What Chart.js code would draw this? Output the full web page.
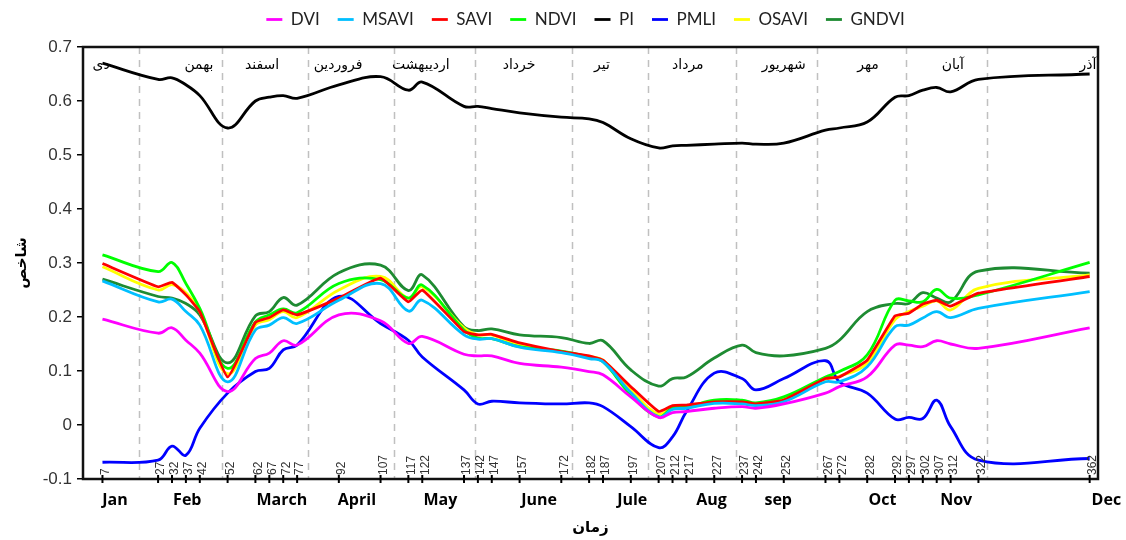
<!DOCTYPE html>
<html><head><meta charset="utf-8">
<script src="https://cdn.jsdelivr.net/npm/chart.js@4.4.1/dist/chart.umd.min.js"></script>
<style>html,body{margin:0;padding:0;background:#fff;}#wrap{width:1126px;height:540px;}</style>
</head><body><div id="wrap"><canvas id="c" width="1126" height="540"></canvas></div>
<script>
// ---- data ----
const days = [7,27,32,37,42,52,62,67,72,77,92,107,117,122,137,142,147,157,172,182,187,197,207,212,217,227,237,242,252,267,272,282,292,297,302,307,312,322,362];
const tickLabels = days.map(String);
const DVI   = [0.196,0.170,0.180,0.157,0.133,0.062,0.123,0.133,0.156,0.148,0.204,0.193,0.151,0.164,0.131,0.128,0.128,0.114,0.107,0.099,0.093,0.052,0.014,0.023,0.025,0.031,0.034,0.031,0.039,0.059,0.071,0.089,0.148,0.148,0.145,0.156,0.150,0.142,0.180];
const MSAVI = [0.267,0.228,0.233,0.210,0.185,0.080,0.176,0.185,0.199,0.188,0.231,0.262,0.211,0.231,0.167,0.159,0.160,0.144,0.134,0.123,0.117,0.060,0.015,0.029,0.031,0.040,0.039,0.036,0.043,0.080,0.080,0.108,0.182,0.185,0.198,0.210,0.199,0.216,0.247];
const SAVI  = [0.299,0.256,0.264,0.241,0.210,0.089,0.190,0.199,0.213,0.204,0.235,0.272,0.228,0.250,0.173,0.167,0.168,0.152,0.136,0.128,0.120,0.071,0.025,0.036,0.037,0.043,0.043,0.039,0.046,0.086,0.089,0.120,0.202,0.207,0.224,0.231,0.220,0.244,0.275];
const NDVI  = [0.315,0.284,0.301,0.262,0.216,0.105,0.191,0.204,0.215,0.208,0.262,0.269,0.235,0.259,0.176,0.161,0.160,0.145,0.137,0.126,0.117,0.056,0.015,0.032,0.033,0.046,0.046,0.041,0.052,0.089,0.099,0.130,0.231,0.230,0.228,0.251,0.235,0.241,0.301];
const PI    = [0.670,0.640,0.643,0.630,0.610,0.550,0.600,0.607,0.610,0.605,0.630,0.645,0.620,0.635,0.590,0.590,0.586,0.578,0.570,0.567,0.560,0.530,0.513,0.517,0.518,0.520,0.522,0.520,0.522,0.546,0.550,0.561,0.607,0.610,0.620,0.625,0.617,0.640,0.650];
const PMLI  = [-0.069,-0.065,-0.039,-0.056,-0.006,0.059,0.099,0.105,0.139,0.148,0.238,0.188,0.157,0.126,0.065,0.039,0.044,0.041,0.039,0.041,0.034,-0.003,-0.042,-0.022,0.025,0.096,0.086,0.065,0.086,0.119,0.080,0.059,0.011,0.014,0.012,0.046,-0.003,-0.065,-0.062];
const OSAVI = [0.293,0.250,0.260,0.245,0.210,0.095,0.185,0.195,0.210,0.199,0.250,0.275,0.235,0.256,0.180,0.167,0.167,0.148,0.135,0.127,0.120,0.065,0.020,0.034,0.035,0.042,0.043,0.038,0.048,0.085,0.090,0.115,0.195,0.210,0.220,0.230,0.213,0.253,0.278];
const GNDVI = [0.270,0.238,0.235,0.225,0.204,0.115,0.202,0.210,0.236,0.222,0.282,0.296,0.249,0.278,0.182,0.175,0.178,0.167,0.162,0.151,0.156,0.102,0.072,0.086,0.089,0.124,0.148,0.134,0.128,0.142,0.157,0.210,0.225,0.225,0.245,0.235,0.228,0.285,0.281];

const monthLabels = ['Jan','Feb','March','April','May','June','Jule','Aug','sep','Oct','Nov','Dec'];
const monthLabelDays = [11.5,37.5,71.5,98.5,128.5,164,197.5,226,250,287.5,314,368];
const persianMonths = ['دی','بهمن','اسفند','فروردین','اردیبهشت','خرداد','تیر','مرداد','شهریور','مهر','آبان','آذر'];
const persianMonthDays = [6.5,41.7,64.4,91.7,121.5,156.8,186.6,217.5,252,282.3,312.8,361.4];
const monthBoundaries = [20,50,81,112,141,176,203,235,264,296,325];

const seriesNames = ['DVI','MSAVI','SAVI','NDVI','PI','PMLI','OSAVI','GNDVI'];
const seriesValues = [DVI,MSAVI,SAVI,NDVI,PI,PMLI,OSAVI,GNDVI];
const seriesColors = ['#FF00FF','#00BFFF','#FF0000','#00FF00','#000000','#0000FF','#FFFF00','#1E8B32'];
const seriesTension = [0.4,0.4,0.12,0.4,0.4,0.4,0.4,0.4];

const datasets = seriesNames.map((n,i)=>({
  label:n,
  data: days.map((d,j)=>({x:d,y:seriesValues[i][j]})),
  borderColor: seriesColors[i], backgroundColor: seriesColors[i],
  borderWidth: 2.8, pointRadius:0, tension: seriesTension[i], fill:false
}));

const decor = {
  id:'decor',
  beforeInit(chart){
    const fit = chart.legend.fit;
    chart.legend.fit = function(){ fit.call(this); this.height = 47; };
  },
  afterLayout(chart){
    const lg = chart.legend;
    lg.left = 73; lg.right = 1098; lg.top = -7;
  },
  beforeDatasetsDraw(chart){
    const {ctx, chartArea:{top,bottom}, scales:{x}} = chart;
    ctx.save();
    ctx.strokeStyle='#c0c0c0'; ctx.lineWidth=1.5; ctx.setLineDash([7,6]);
    monthBoundaries.forEach(d=>{
      const px=Math.round(x.getPixelForValue(d))+0.5;
      ctx.beginPath(); ctx.moveTo(px,top); ctx.lineTo(px,bottom); ctx.stroke();
    });
    ctx.setLineDash([]);
    ctx.fillStyle='#000'; ctx.font='14px "DejaVu Sans"'; ctx.textAlign='center'; ctx.textBaseline='middle';
    persianMonths.forEach((t,i)=>ctx.fillText(t, x.getPixelForValue(persianMonthDays[i]), 65));
    ctx.restore();
  },
  afterDatasetsDraw(chart){
    const {ctx, chartArea:{top,bottom,left,right}, scales:{x}} = chart;
    ctx.save();
    ctx.strokeStyle='#111'; ctx.lineWidth=2.5;
    ctx.strokeRect(left, top, right-left, bottom-top);
    ctx.strokeStyle='#000'; ctx.lineWidth=2;
    days.forEach(d=>{
      const px=x.getPixelForValue(d);
      ctx.beginPath(); ctx.moveTo(px,bottom-4); ctx.lineTo(px,bottom+4); ctx.stroke();
    });
    ctx.fillStyle='#333'; ctx.font='12px "Liberation Sans"'; ctx.textAlign='left'; ctx.textBaseline='middle';
    days.forEach((d,i)=>{
      const px=x.getPixelForValue(d);
      ctx.save(); ctx.translate(px+3, bottom-4); ctx.rotate(-Math.PI/2);
      ctx.fillText(tickLabels[i],0,0); ctx.restore();
    });
    ctx.fillStyle='#000'; ctx.font='bold 16px "Open Sans"'; ctx.textAlign='center'; ctx.textBaseline='middle';
    monthLabels.forEach((t,i)=>ctx.fillText(t, x.getPixelForValue(monthLabelDays[i]), 500));
    ctx.restore();
  }
};

new Chart(document.getElementById('c'), {
  type:'line',
  data:{datasets},
  plugins:[decor],
  options:{
    responsive:false, animation:false, devicePixelRatio:1,
    layout:{padding:{left:0,right:28,top:0,bottom:0}},
    plugins:{
      tooltip:{enabled:false},
      legend:{position:'top', align:'center',
        labels:{usePointStyle:true, pointStyle:'line', pointStyleWidth:16, padding:18, color:'#222',
          font:{family:'Lato', size:17}}}
    },
    scales:{
      x:{type:'linear', min:0, max:365, ticks:{display:false}, grid:{display:false}, border:{display:false},
        title:{display:true, text:'زمان', color:'#000', font:{family:'DejaVu Sans', size:15, weight:'bold'}, padding:{top:0,bottom:3}},
        afterFit(s){ s.height = 61; }},
      y:{min:-0.1, max:0.7,
        ticks:{stepSize:0.1, color:'#333', padding:5, font:{family:'Liberation Sans', size:17},
          callback:v=>Math.abs(v)<1e-9?'0':String(+v.toFixed(1))},
        grid:{drawOnChartArea:false, drawTicks:true, tickLength:6, color:'#000', lineWidth:1.5},
        border:{display:false},
        title:{display:true, text:'شاخص', color:'#000', font:{family:'DejaVu Sans', size:15, weight:'bold'}, padding:{top:13,bottom:0}},
        afterFit(s){ s.width = 83; }}
    }
  }
});
</script></body></html>
